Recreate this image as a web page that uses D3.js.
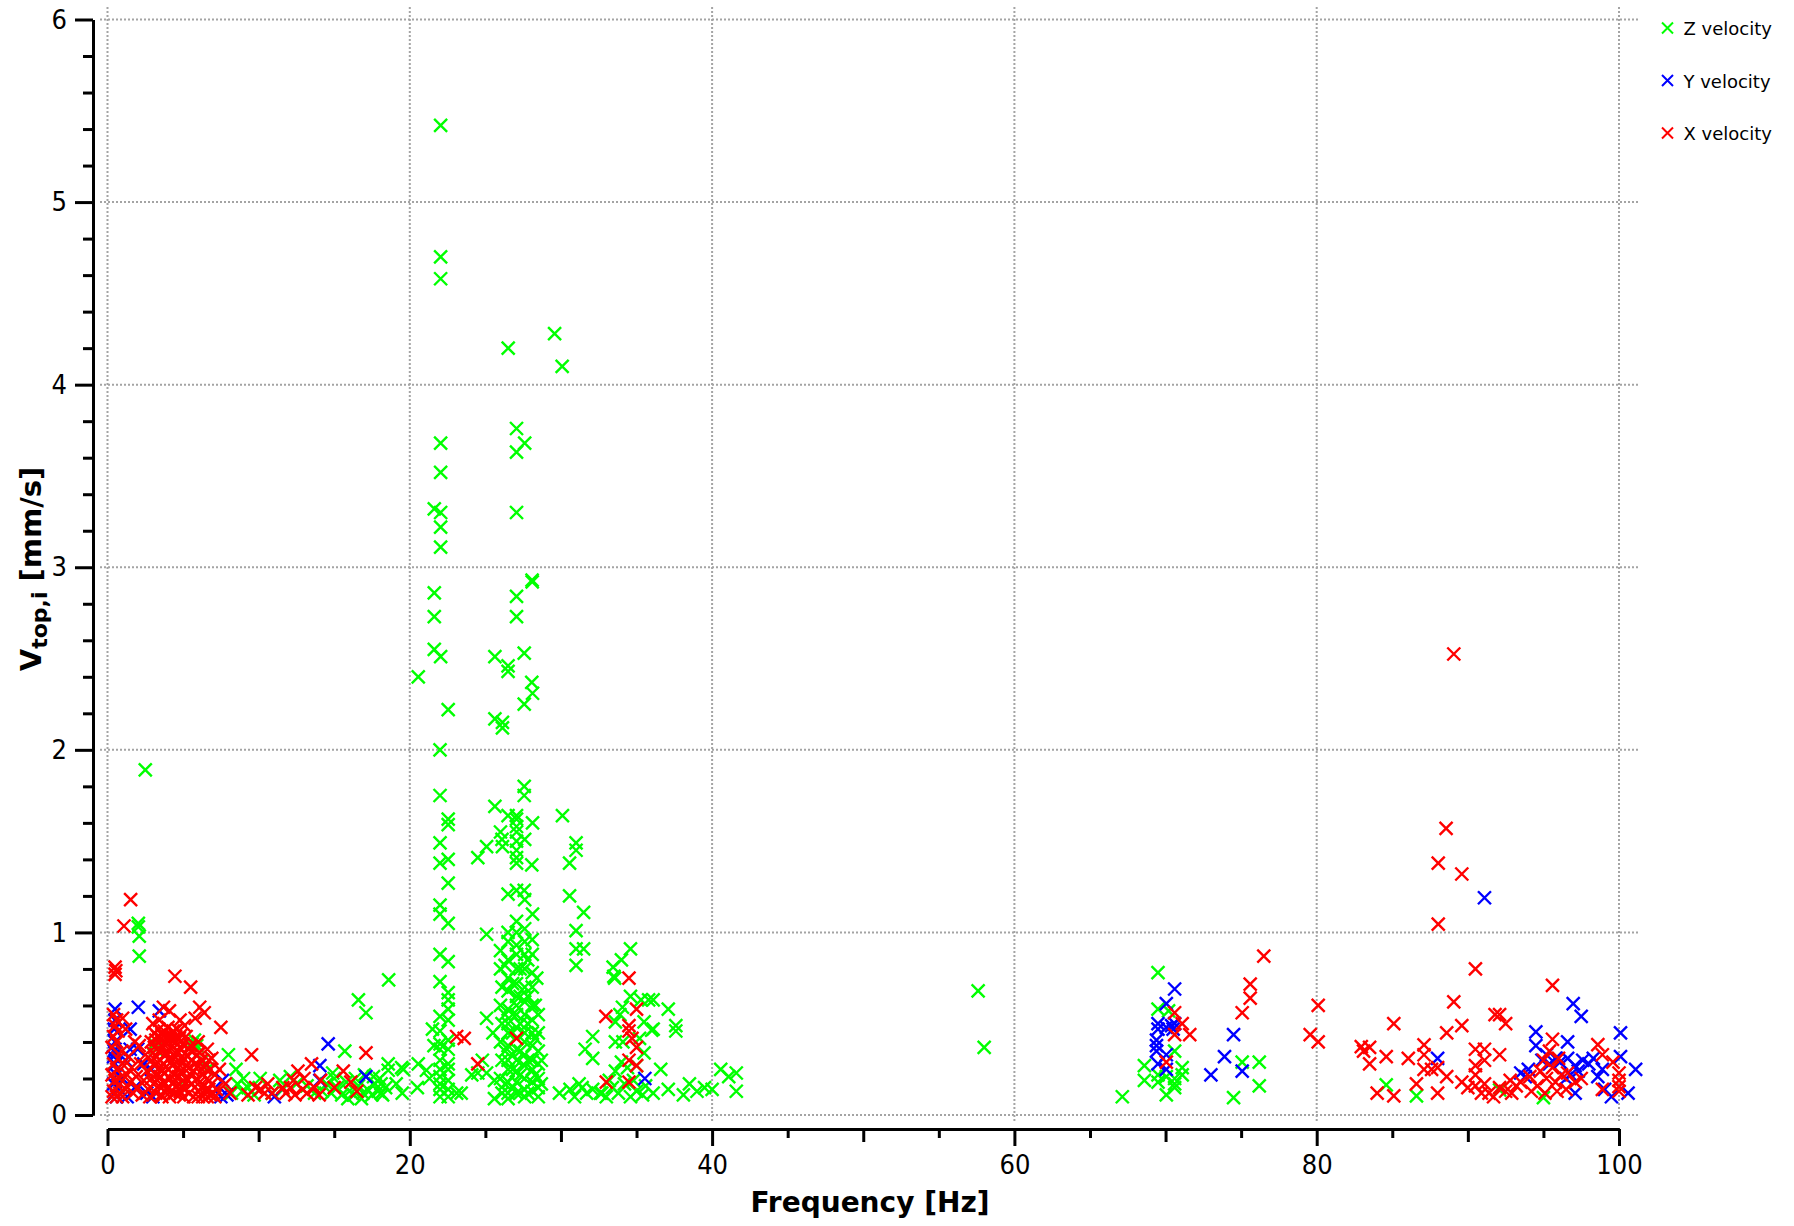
<!DOCTYPE html>
<html>
<head>
<meta charset="utf-8">
<script src="https://cdn.jsdelivr.net/npm/d3@7"></script>
<style>
body { margin: 0; background: #fff; }
svg { display: block; }
</style>
</head>
<body>
<script>
// [frequency Hz, v_top,i mm/s]
var zVelocity = [
  [2.5,1.89],[2.04,1.05],[2.04,1.03],[2.1,0.98],[2.1,0.87],
  [3.1,0.39],[3.2,0.36],[5.6,0.39],[5.9,0.38],[5.75,0.41],[6.3,0.3],[6.6,0.25],[5.2,0.2],
  [8.0,0.33],[8.5,0.25],[8.6,0.17],[8.9,0.13],[9.3,0.15],[10.1,0.2],[9.0,0.2],[8.2,0.12],[9.7,0.11],
  [11.4,0.19],[12.1,0.21],[12.5,0.17],[11.6,0.14],[10.9,0.12],[13.2,0.16],[13.7,0.12],
  [14.9,0.23],[15.7,0.35],[16.6,0.63],[17.1,0.56],[18.6,0.74],
  [14.2,0.13],[14.8,0.12],[15.2,0.15],[15.5,0.11],[15.8,0.18],[16.0,0.13],[16.3,0.11],[16.6,0.16],
  [16.9,0.12],[17.2,0.14],[17.5,0.11],[17.7,0.17],[17.9,0.13],[18.2,0.11],[18.4,0.15],[16.4,0.2],
  [17.0,0.22],[17.6,0.21],[18.0,0.2],[15.0,0.2],[14.5,0.17],[16.8,0.09],[15.9,0.09],
  [18.57,0.28],[18.57,0.245],[19.46,0.26],[19.1,0.17],[19.5,0.12],[18.1,0.17],[18.1,0.12],[19.57,0.25],
  [20.56,0.28],[21.1,0.245],[20.56,2.40],[21.6,0.38],[21.3,0.2],[20.5,0.15],
  [22.04,5.42],[22.04,4.70],[22.04,4.58],[22.04,3.68],[22.04,3.52],[21.62,3.32],[22.04,3.30],
  [22.04,3.22],[22.04,3.11],[21.62,2.86],[21.62,2.73],[21.62,2.55],[22.04,2.51],[22.0,2.00],
  [22.0,1.75],[22.0,1.49],[22.0,1.38],[22.0,1.15],[22.0,1.10],[22.0,0.88],[22.0,0.73],
  [21.5,0.47],[22.0,0.46],[22.0,0.54],[22.0,0.39],[22.0,0.36],[22.0,0.30],[22.0,0.25],
  [22.0,0.21],[22.0,0.17],[22.0,0.14],[22.0,0.10],
  [22.54,2.22],[22.54,1.62],[22.54,1.59],[22.54,1.40],[22.54,1.27],[22.54,1.05],[22.54,0.84],
  [22.54,0.67],[22.54,0.63],[22.54,0.58],[22.54,0.52],[22.54,0.41],[22.54,0.36],[22.54,0.28],
  [22.54,0.25],[22.54,0.19],[22.54,0.14],[22.54,0.10],[23.1,0.12],
  [23.4,0.12],[24.1,0.22],[24.5,0.23],[25.08,0.23],[25.6,0.19],[25.6,0.09],[25.08,0.53],
  [25.5,0.45],[25.08,0.99],[24.5,1.41],[25.08,1.47],[25.63,1.69],[24.8,0.3],[25.63,2.51],
  [25.63,2.17],[26.13,2.15],[26.13,2.12],[26.0,1.55],[26.1,1.51],[26.13,1.47],[26.0,0.9],
  [26.0,0.8],[26.1,0.7],[26.0,0.6],[26.1,0.5],[26.0,0.4],[26.1,0.3],[26.0,0.2],[26.1,0.12],
  [26.51,4.20],[26.5,2.46],[26.5,2.43],[26.5,1.64],[26.5,1.21],[26.5,1.0],[26.5,0.95],
  [26.5,0.85],[26.5,0.75],[26.5,0.68],[26.5,0.58],[26.5,0.5],[26.5,0.45],[26.5,0.38],
  [26.5,0.3],[26.5,0.25],[26.5,0.18],[26.5,0.12],[26.5,0.09],
  [27.06,3.76],[27.06,3.63],[27.06,3.30],[27.06,2.84],[27.06,2.73],[27.06,1.64],[27.06,1.62],
  [27.06,1.58],[27.06,1.55],[27.06,1.5],[27.06,1.45],[27.06,1.41],[27.06,1.38],[27.06,1.23],
  [27.06,1.06],[27.06,1.0],[27.06,0.93],[27.06,0.88],[27.06,0.8],[27.06,0.72],[27.06,0.65],
  [27.06,0.6],[27.06,0.55],[27.06,0.48],[27.06,0.36],[27.06,0.3],[27.06,0.24],
  [27.06,0.18],[27.06,0.12],
  [27.6,3.68],[27.57,2.53],[27.57,2.25],[27.57,1.80],[27.57,1.75],[27.6,1.51],[27.57,1.23],
  [27.6,1.18],[27.6,1.02],[27.6,0.95],[27.6,0.88],[27.6,0.8],[27.6,0.7],[27.6,0.62],
  [27.6,0.55],[27.6,0.45],[27.6,0.4],[27.6,0.33],[27.6,0.27],[27.6,0.2],[27.6,0.14],[27.6,0.1],
  [28.09,2.93],[28.1,2.92],[28.07,2.37],[28.12,2.31],[28.12,1.60],[28.07,1.37],[28.12,1.10],
  [28.1,0.96],[28.1,0.88],[28.1,0.78],[28.1,0.7],[28.1,0.6],[28.1,0.52],[28.1,0.45],
  [28.1,0.38],[28.1,0.3],[28.1,0.25],[28.1,0.18],[28.1,0.13],
  [28.5,0.55],[28.5,0.45],[28.5,0.35],[28.5,0.28],[28.5,0.2],[28.5,0.15],[28.5,0.1],
  [27.3,0.5],[26.8,0.33],[27.8,0.3],[26.8,0.15],[27.3,0.22],[27.8,0.12],
  [26.3,0.35],[26.8,0.55],[26.8,0.45],[27.3,0.65],[27.3,0.35],[27.8,0.5],[27.8,0.65],
  [28.3,0.42],[28.3,0.22],[26.3,0.17],[27.3,0.12],[26.8,0.25],[28.3,0.6],[28.7,0.3],
  [28.7,0.17],[26.3,0.55],[26.8,0.72],[27.8,0.85],[27.3,0.8],[26.3,0.82],[28.4,0.75],
  [29.58,4.28],[30.08,4.10],[30.1,1.64],[31.0,1.49],[31.0,1.45],[30.57,1.38],[30.57,1.20],
  [31.5,1.11],[31.0,1.01],[31.0,0.91],[31.0,0.82],[31.5,0.91],
  [30.6,0.14],[31.2,0.17],[31.7,0.12],[32.1,0.14],[32.6,0.12],[32.1,0.43],[31.6,0.36],[32.1,0.31],
  [29.9,0.12],[30.9,0.1],[31.4,0.15],
  [34.6,0.91],[34.0,0.85],[33.45,0.81],[33.5,0.76],[33.55,0.75],[34.6,0.65],[35.3,0.63],
  [35.8,0.63],[36.1,0.63],[37.1,0.58],[37.6,0.49],[37.6,0.46],[34.07,0.59],[33.6,0.51],
  [33.9,0.55],[35.5,0.51],[36.0,0.465],[33.6,0.40],[34.1,0.40],[35.2,0.42],[35.5,0.34],
  [33.6,0.24],[34.0,0.29],[34.4,0.26],[35.0,0.27],[36.6,0.25],[36.1,0.47],
  [32.7,0.12],[33.0,0.1],[33.4,0.15],[33.8,0.12],[34.2,0.17],[34.6,0.1],[35.0,0.13],
  [35.4,0.11],[35.6,0.16],[36.1,0.12],[34.8,0.19],[33.2,0.19],
  [37.1,0.14],[38.1,0.11],[38.5,0.17],[39.0,0.13],[39.5,0.15],[40.0,0.14],
  [40.57,0.25],[41.1,0.21],[41.6,0.23],[41.6,0.13],
  [57.6,0.68],[58.0,0.37],
  [67.14,0.10],[69.5,0.78],[69.5,0.58],[68.6,0.27],[68.6,0.19],[69.5,0.22],[69.5,0.18],
  [70.05,0.11],[70.6,0.35],[70.6,0.20],[70.6,0.17],[70.6,0.15],[71.1,0.26],[71.1,0.22],
  [70.05,0.21],[70.2,0.57],[75.07,0.29],[76.2,0.29],[76.2,0.16],[74.5,0.095],
  [84.6,0.165],[86.6,0.105],[92.1,0.137],[95.0,0.095]
];

var yVelocity = [
  [0.5,0.58],[0.5,0.52],[0.45,0.47],[0.5,0.4],[0.45,0.35],[0.5,0.36],[0.55,0.34],[0.4,0.32],
  [0.5,0.28],[0.6,0.22],[0.4,0.17],[0.5,0.12],[0.6,0.1],
  [2.04,0.59],[3.43,0.57],[1.5,0.47],[1.5,0.36],[2.0,0.36],[2.4,0.28],[2.9,0.25],[1.2,0.3],
  [1.0,0.2],[1.8,0.15],[2.6,0.12],[1.3,0.1],[3.0,0.1],
  [7.6,0.19],[7.9,0.11],[7.5,0.10],[11.04,0.10],[14.6,0.39],[14.05,0.27],[14.05,0.19],[17.1,0.21],
  [35.55,0.20],
  [70.6,0.69],[70.05,0.61],[69.5,0.50],[69.5,0.47],[70.05,0.48],[70.4,0.49],[70.6,0.50],
  [70.5,0.47],[69.4,0.41],[69.4,0.38],[69.4,0.35],[70.05,0.33],[69.5,0.28],[70.05,0.25],
  [73.0,0.22],[73.9,0.32],[74.5,0.44],[75.07,0.24],
  [88.0,0.31],[91.1,1.19],[96.97,0.61],[97.5,0.54],[94.5,0.455],[94.5,0.38],[96.6,0.40],
  [100.1,0.45],[100.1,0.32],[101.1,0.25],
  [95.2,0.33],[94.9,0.30],[95.4,0.28],[95.8,0.31],[96.1,0.29],[96.6,0.31],[97.1,0.27],
  [97.6,0.3],[98.0,0.28],[98.3,0.31],[97.3,0.24],[96.8,0.22],[98.6,0.21],[99.05,0.14],
  [99.5,0.1],[100.6,0.12],[97.1,0.12],[96.5,0.2],[93.5,0.23],[94.0,0.25],[93.8,0.21],[98.9,0.25]
];

var xVelocity = [
  [0.5,0.81],[0.55,0.79],[0.5,0.77],[0.4,0.55],[0.6,0.52],[0.5,0.49],[0.7,0.46],[0.4,0.43],
  [0.6,0.4],[0.3,0.37],[0.7,0.31],[0.4,0.28],[0.6,0.25],[0.3,0.22],[0.5,0.19],
  [0.7,0.16],[0.4,0.13],[0.6,0.1],[0.3,0.1],[0.8,0.12],[0.8,0.2],
  [1.0,0.53],[1.2,0.47],[1.09,1.035],[1.53,1.18],[0.95,0.35],[1.1,0.27],[1.3,0.22],[1.2,0.14],
  [1.0,0.1],[1.5,0.18],[1.6,0.26],[1.7,0.12],[1.9,0.21],[2.0,0.15],[2.2,0.28],[2.3,0.11],
  [2.4,0.19],[2.6,0.24],[2.7,0.14],[2.9,0.2],[2.8,0.1],[1.4,0.32],[2.1,0.38],[2.5,0.33],
  [1.8,0.4],[2.9,0.3],
  [3.1,0.45],[3.4,0.47],[3.75,0.46],[4.0,0.48],[4.35,0.46],[4.6,0.47],[4.9,0.44],
  [3.2,0.41],[3.55,0.42],[3.8,0.4],[4.15,0.42],[4.4,0.41],[4.75,0.42],[5.0,0.39],
  [3.1,0.37],[3.4,0.35],[3.7,0.37],[4.05,0.36],[4.3,0.38],[4.6,0.35],[4.9,0.36],
  [3.25,0.32],[3.5,0.3],[3.85,0.33],[4.1,0.31],[4.45,0.32],[4.7,0.3],[5.05,0.31],
  [3.1,0.27],[3.45,0.26],[3.7,0.28],[4.0,0.25],[4.3,0.27],[4.65,0.26],[4.9,0.24],
  [3.2,0.22],[3.5,0.21],[3.8,0.23],[4.15,0.2],[4.4,0.22],[4.7,0.21],[5.0,0.19],
  [3.05,0.17],[3.4,0.16],[3.75,0.18],[4.0,0.15],[4.3,0.17],[4.6,0.16],[4.95,0.15],
  [3.2,0.12],[3.55,0.11],[3.8,0.13],[4.1,0.1],[4.45,0.12],[4.75,0.11],[5.05,0.1],
  [2.9,0.4],[3.0,0.34],[3.3,0.43],[3.6,0.44],[3.9,0.43],[4.2,0.44],[4.5,0.43],[4.8,0.4],
  [5.2,0.43],[5.4,0.36],[5.2,0.27],[5.5,0.22],[5.1,0.14],[5.8,0.28],[6.1,0.34],[6.4,0.26],
  [6.7,0.3],[6.1,0.18],[6.4,0.16],[6.7,0.14],[7.0,0.12],[6.0,0.1],[6.6,0.1],[3.3,0.19],
  [3.6,0.24],[3.9,0.14],[4.2,0.29],[4.5,0.19],[4.8,0.27],[3.3,0.29],[3.9,0.34],[4.5,0.34],
  [4.2,0.13],[3.6,0.1],[4.8,0.13],
  [3.7,0.59],[4.1,0.57],[4.46,0.76],[5.5,0.70],[6.1,0.59],[6.4,0.56],[5.1,0.49],[5.8,0.53],
  [3.43,0.52],[4.8,0.52],[3.0,0.5],[7.5,0.48],
  [5.3,0.32],[5.6,0.3],[5.9,0.33],[6.2,0.3],[6.5,0.28],[6.8,0.25],[7.1,0.22],
  [5.4,0.26],[5.7,0.24],[6.0,0.27],[6.3,0.22],[6.6,0.2],[6.9,0.17],[7.2,0.14],
  [5.3,0.19],[5.6,0.17],[5.9,0.2],[6.2,0.15],[6.5,0.13],[6.8,0.11],[7.1,0.1],
  [5.4,0.12],[5.7,0.1],[6.0,0.13],[6.3,0.1],[5.5,0.38],[6.0,0.4],[6.6,0.36],[6.9,0.31],[7.4,0.25],
  [7.8,0.17],[8.1,0.12],[9.53,0.33],[9.3,0.11],[9.8,0.15],[10.1,0.14],[10.4,0.12],
  [10.6,0.17],[10.9,0.12],
  [12.6,0.24],[13.5,0.28],[14.1,0.19],[11.8,0.12],[12.1,0.15],[12.4,0.11],[12.9,0.14],
  [13.2,0.12],[13.7,0.15],[14.0,0.11],[12.3,0.19],[13.0,0.2],[11.6,0.15],
  [15.6,0.24],[16.1,0.18],[17.1,0.34],[15.0,0.15],[16.5,0.13],
  [23.1,0.43],[23.6,0.42],[24.5,0.28],[27.06,0.42],
  [32.97,0.54],[34.5,0.75],[35.0,0.58],[34.5,0.49],[34.5,0.46],[34.7,0.42],[35.0,0.37],
  [34.5,0.30],[35.0,0.27],[34.5,0.18],[33.0,0.18],
  [70.6,0.56],[71.1,0.50],[70.6,0.44],[71.6,0.44],[70.05,0.29],[75.07,0.56],[75.6,0.717],
  [75.6,0.64],[76.5,0.87],
  [79.57,0.44],[80.1,0.40],[80.1,0.60],[82.95,0.375],[83.5,0.37],[83.1,0.35],[83.5,0.28],
  [84.6,0.32],[85.1,0.50],[84.0,0.12],[85.1,0.105],[86.06,0.31],[87.1,0.384],[87.1,0.33],
  [87.1,0.25],[87.6,0.25],[88.0,0.26],[88.6,0.21],[89.6,0.18],[86.6,0.17],[88.0,0.12],
  [88.04,1.045],[88.04,1.38],[88.56,1.57],[89.6,1.32],[89.07,2.525],[89.07,0.62],[88.6,0.45],
  [89.6,0.49],[90.5,0.80],[90.5,0.36],[91.1,0.36],[90.5,0.27],[91.1,0.30],[90.5,0.22],
  [91.1,0.17],[90.5,0.16],[90.0,0.15],[90.9,0.12],[91.4,0.12],[91.8,0.55],
  [92.1,0.55],[92.5,0.50],[92.1,0.33],
  [95.6,0.71],[95.6,0.415],[98.6,0.385],[98.9,0.33],[99.6,0.29],[100.0,0.23],[100.0,0.19],
  [100.0,0.155],[100.0,0.13],
  [94.6,0.16],[94.8,0.24],[95.0,0.3],[95.2,0.2],[95.4,0.35],[95.6,0.26],[95.8,0.18],
  [96.0,0.31],[96.2,0.22],[96.5,0.14],[94.2,0.13],[93.5,0.18],[94.1,0.21],[95.1,0.12],
  [95.9,0.13],[96.6,0.23],[97.1,0.18],[97.5,0.2],[98.9,0.14],
  [92.1,0.15],[92.5,0.13],[92.9,0.12],[91.7,0.1],[93.2,0.16],[92.8,0.19]
];

var xMajor = [0, 20, 40, 60, 80, 100];
var xMid = [10, 30, 50, 70, 90];
var xMinor = [5, 15, 25, 35, 45, 55, 65, 75, 85, 95];
var yMajor = [0, 1, 2, 3, 4, 5, 6];
var yMinor = [0.2,0.4,0.6,0.8, 1.2,1.4,1.6,1.8, 2.2,2.4,2.6,2.8, 3.2,3.4,3.6,3.8,
              4.2,4.4,4.6,4.8, 5.2,5.4,5.6,5.8];
var seriesNames = ["Z velocity", "Y velocity", "X velocity"];

var green = "rgb(0,255,0)";
var blue = "rgb(0,0,255)";
var red = "rgb(255,0,0)";
var seriesColors = [green, blue, red];
var seriesData = [zVelocity, yVelocity, xVelocity];

var condensed = "'DejaVu Sans Condensed', 'DejaVu Sans', sans-serif";
var normal = "'DejaVu Sans', sans-serif";

var svg = d3.select("body")
.append("svg")
.attr("width", 1794)
.attr("height", 1226)
.style("font-family", normal);

var x = d3.scaleLinear().domain([0, 100]).range([107.5, 1619]);
var y = d3.scaleLinear().domain([0, 6]).range([1115, 19.5]);

// dotted grid
var grid = svg.append("g")
.attr("stroke", "#a4a4a4")
.attr("stroke-width", 2)
.attr("stroke-dasharray", "2,2");

grid.selectAll(".gx")
.data(xMajor)
.enter()
.append("line")
.attr("x1", function(d) { return x(d); })
.attr("x2", function(d) { return x(d); })
.attr("y1", 7)
.attr("y2", 1121);

grid.selectAll(".gy")
.data(yMajor)
.enter()
.append("line")
.attr("x1", 100)
.attr("x2", 1638)
.attr("y1", function(d) { return y(d); })
.attr("y2", function(d) { return y(d); });

// y axis, sits left of x=0
var yAxisG = svg.append("g").attr("transform", "translate(93,0)");
yAxisG.append("g")
.call(d3.axisLeft(y).tickValues(yMinor).tickSize(10).tickSizeOuter(0).tickFormat(""));
yAxisG.append("g")
.call(d3.axisLeft(y).tickValues(yMajor).tickSize(18).tickSizeOuter(0).tickPadding(8).tickFormat(d3.format("d")));

// x axis
var xAxisG = svg.append("g").attr("transform", "translate(0,1129)");
xAxisG.append("g")
.call(d3.axisBottom(x).tickValues(xMinor).tickSize(9).tickSizeOuter(0).tickFormat(""));
xAxisG.append("g")
.call(d3.axisBottom(x).tickValues(xMid).tickSize(13).tickSizeOuter(0).tickFormat(""));
xAxisG.append("g")
.call(d3.axisBottom(x).tickValues(xMajor).tickSize(17).tickSizeOuter(0).tickPadding(9).tickFormat(d3.format("d")));

svg.selectAll(".domain, .tick line")
.attr("stroke", "#000")
.attr("stroke-width", 3);
svg.selectAll(".tick text")
.attr("fill", "#000")
.style("font-family", condensed)
.style("font-size", "27px");

// markers
var cross = "M-6.5,-6.5L6.5,6.5M-6.5,6.5L6.5,-6.5";
for (var s = 0; s < seriesData.length; s++) {
  svg.append("g")
  .selectAll("path")
  .data(seriesData[s])
  .enter()
  .append("path")
  .attr("d", cross)
  .attr("transform", function(d) { return "translate(" + x(d[0]) + "," + y(d[1]) + ")"; })
  .attr("fill", "none")
  .attr("stroke", seriesColors[s])
  .attr("stroke-width", 2.4);
}

// axis titles
svg.append("text")
.attr("x", 870)
.attr("y", 1212)
.attr("text-anchor", "middle")
.style("font-size", "28px")
.style("font-weight", "bold")
.text("Frequency [Hz]");

var yTitle = svg.append("text")
.attr("transform", "translate(41,569) rotate(-90)")
.attr("text-anchor", "middle")
.style("font-size", "29px")
.style("font-weight", "bold");
yTitle.append("tspan").text("V");
yTitle.append("tspan").attr("dy", 6).style("font-size", "22px").text("top,i");
yTitle.append("tspan").attr("dy", -6).text(" [mm/s]");

// legend
var legend = svg.append("g")
.selectAll("g")
.data(seriesNames)
.enter()
.append("g")
.attr("transform", function(d, i) { return "translate(1667.5," + (28 + i * 52.5) + ")"; });

legend.append("path")
.attr("d", "M-5.5,-5.5L5.5,5.5M-5.5,5.5L5.5,-5.5")
.attr("fill", "none")
.attr("stroke", function(d, i) { return seriesColors[i]; })
.attr("stroke-width", 2);

legend.append("text")
.attr("x", 16)
.attr("y", 7)
.style("font-size", "18px")
.text(function(d) { return d; });
</script>
</body>
</html>
